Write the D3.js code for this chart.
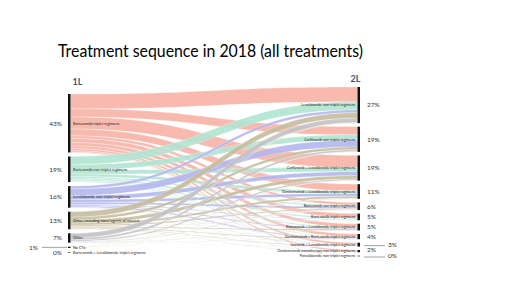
<!DOCTYPE html>
<html>
<head>
<meta charset="utf-8">
<script src="https://cdn.jsdelivr.net/npm/d3@7"></script>
<style>
  body { margin: 0; background: #fff; }
  svg { display: block; }
  text { font-family: Lato, "Open Sans", sans-serif; }
</style>
</head>
<body>
<svg id="chart" width="520" height="292"></svg>
<script>
// 1st line of treatment (left) and 2nd line (right)
var sources = ["Bortezomib triplet regimens", "Bortezomib non-triplet regimens",
  "Lenalidomide non-triplet regimens", "Other, including novel agents of interest",
  "Other", "No CTx", "Bortezomib + Lenalidomide triplet regimens"];
var sourcePct = ["43%", "19%", "16%", "13%", "7%", "1%", "0%"];

var targets = ["Lenalidomide non-triplet regimens", "Carfilzomib non-triplet regimens",
  "Carfilzomib + Lenalidomide triplet regimens", "Daratumumab + Lenalidomide triplet regimens",
  "Bortezomib non-triplet regimens", "Bortezomib triplet regimens",
  "Elotuzumab + Lenalidomide triplet regimens", "Daratumumab + Bortezomib triplet regimens",
  "Ixazomib + Lenalidomide triplet regimens", "Daratumumab monotherapy non-triplet regimens",
  "Pomalidomide non-triplet regimens"];
var targetPct = ["27%", "19%", "19%", "11%", "6%", "5%", "5%", "4%", "3%", "2%", "0%"];

// flow share (%) from each 1L source (rows) to each 2L target (columns), estimated
var flows = [
  [11,  6,   9,   5,   2,   3,   2.5, 2,   1.5, 1,   0.3],
  [6,   4,   3,   2,   1,   1,   0.8, 0.5, 0.4, 0.3, 0],
  [2,   5,   3,   2,   1.5, 0.5, 0.8, 0.8, 0.3, 0.1, 0],
  [4,   2,   2.5, 1.5, 0.8, 0.3, 0.8, 0.5, 0.4, 0.2, 0],
  [3.5, 1.5, 1,   0.3, 0.3, 0.1, 0.1, 0.1, 0.1, 0,   0],
  [0.3, 0.2, 0.2, 0.1, 0.1, 0,   0,   0,   0.05, 0,  0],
  [0,   0,   0,   0,   0,   0,   0,   0,   0.1, 0,   0]
];

var colors = ["#f7b3a6", "#b1e4d2", "#b3b7ec", "#c5bc9d", "#c2c2c6", "#d9e3ad", "#e6c9b8"];

var svg = d3.select("#chart");

var xL = 70.5, xR = 357.5;
var k = 1.35, gap = 4, gapR = 3.5;

function layout(values, y0, g) {
  var out = [], y = y0;
  values.forEach(function(v) {
    var h = Math.max(v * k, 0.6);
    out.push({y0: y, y1: y + h, h: h});
    y += h + g;
  });
  return out;
}

var srcVal = flows.map(r => d3.sum(r));
var tgtVal = targets.map((t, j) => d3.sum(flows, r => r[j]));
var srcNodes = layout(srcVal, 94, gap);
var tgtNodes = layout(tgtVal, 87, gapR);

// build links with stacked offsets
var links = [];
var sOff = srcNodes.map(n => n.y0), tOff = tgtNodes.map(n => n.y0);
flows.forEach(function(row, i) {
  row.forEach(function(v, j) {
    if (v > 0) links.push({s: i, t: j, v: v});
  });
});
// at source: ordered by target; at target: ordered by source
links.slice().sort((a, b) => a.s - b.s || a.t - b.t).forEach(function(l) {
  l.sy = sOff[l.s]; sOff[l.s] += l.v * k;
});
links.slice().sort((a, b) => a.t - b.t || a.s - b.s).forEach(function(l) {
  l.ty = tOff[l.t]; tOff[l.t] += l.v * k;
});

function ribbon(l) {
  var w = l.v * k, xm = (xL + xR) / 2;
  return "M" + xL + "," + l.sy +
    "C" + xm + "," + l.sy + " " + xm + "," + l.ty + " " + xR + "," + l.ty +
    "L" + xR + "," + (l.ty + w) +
    "C" + xm + "," + (l.ty + w) + " " + xm + "," + (l.sy + w) + " " + xL + "," + (l.sy + w) + "Z";
}

svg.append("g").selectAll("path")
  .data(links)
  .join("path")
  .attr("d", ribbon)
  .attr("fill", d => colors[d.s])
  .attr("fill-opacity", 0.9)
  .attr("stroke", "#fff")
  .attr("stroke-width", 0.35)
  .attr("stroke-opacity", 0.7);

// node bars
svg.append("g").selectAll("rect")
  .data(srcNodes)
  .join("rect")
  .attr("x", 68).attr("width", 2.5)
  .attr("y", d => d.y0).attr("height", d => d.h)
  .attr("fill", "#111");
svg.append("g").selectAll("rect")
  .data(tgtNodes)
  .join("rect")
  .attr("x", 357.5).attr("width", 2.5)
  .attr("y", d => d.y0).attr("height", d => d.h)
  .attr("fill", "#111");

// node labels
svg.append("g").selectAll("text")
  .data(sources)
  .join("text")
  .attr("x", 73)
  .attr("y", (d, i) => (srcNodes[i].y0 + srcNodes[i].y1) / 2)
  .attr("dy", "0.35em")
  .attr("font-size", 3.8)
  .attr("fill", "#222")
  .text(d => d);
svg.append("g").selectAll("text")
  .data(targets)
  .join("text")
  .attr("x", 355)
  .attr("y", (d, i) => (tgtNodes[i].y0 + tgtNodes[i].y1) / 2)
  .attr("dy", "0.35em")
  .attr("text-anchor", "end")
  .attr("font-size", 3.6)
  .attr("fill", "#222")
  .text(d => d);

// percentage labels, left
var pl = svg.append("g").attr("font-size", 6.5).attr("fill", "#333");
sourcePct.forEach(function(p, i) {
  var n = srcNodes[i], ym = (n.y0 + n.y1) / 2;
  if (i === 5) {
    pl.append("line").attr("x1", 42).attr("x2", 67).attr("y1", ym).attr("y2", ym)
      .attr("stroke", "#888").attr("stroke-width", 0.8);
    pl.append("text").attr("x", 38).attr("y", ym).attr("dy", "0.35em")
      .attr("text-anchor", "end").text(p);
  } else {
    pl.append("text").attr("x", 62).attr("y", i === 6 ? ym + 0.5 : ym).attr("dy", "0.35em")
      .attr("text-anchor", "end").text(p);
  }
});

// percentage labels, right
var pr = svg.append("g").attr("font-size", 6.5).attr("fill", "#333");
targetPct.forEach(function(p, i) {
  var n = tgtNodes[i], ym = (n.y0 + n.y1) / 2;
  if (i === 8 || i === 10) {
    pr.append("line").attr("x1", 364).attr("x2", 385).attr("y1", ym + 1).attr("y2", ym + 1)
      .attr("stroke", "#888").attr("stroke-width", 0.8);
    pr.append("text").attr("x", 388).attr("y", ym).attr("dy", "0.35em").text(p);
  } else {
    pr.append("text").attr("x", 367).attr("y", i === 9 ? ym - 1 : ym).attr("dy", "0.35em").text(p);
  }
});

// column headers
svg.append("text").attr("x", 72.5).attr("y", 85)
  .attr("font-size", 9).attr("font-weight", "bold").attr("fill", "#44546a").text("1L");
svg.append("text").attr("x", 350.5).attr("y", 82)
  .attr("font-size", 9).attr("font-weight", "bold").attr("fill", "#44546a").text("2L");

// title
svg.append("text")
  .attr("x", 58).attr("y", 57)
  .attr("font-size", 17)
  .attr("fill", "#000")
  .attr("textLength", 305)
  .attr("lengthAdjust", "spacingAndGlyphs")
  .text("Treatment sequence in 2018 (all treatments)");
</script>
</body>
</html>
